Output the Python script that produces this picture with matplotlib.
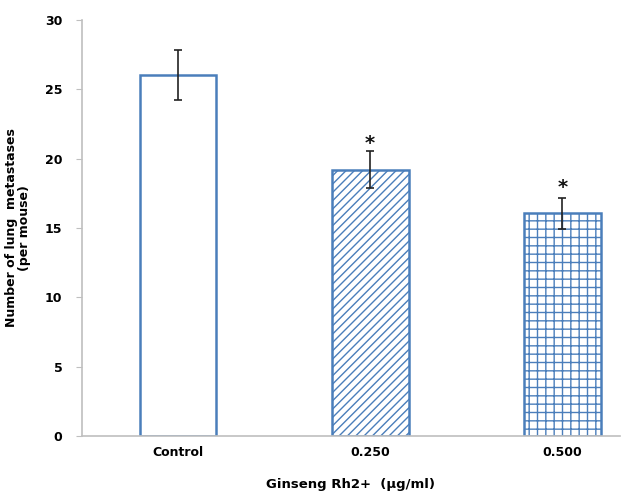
import matplotlib
matplotlib.use("Agg")
import matplotlib.pyplot as plt

# data
groups = ["Control", "0.250", "0.500"]
means = [26.0, 19.2, 16.05]
errors = [1.8, 1.35, 1.12]
star_y = [None, 21.1, 17.9]
hatches = ["", "////", "++"]
yticks = [0, 5, 10, 15, 20, 25, 30]

blue = "#4a7ebb"
grey = "#bfbfbf"

plt.rcParams["hatch.linewidth"] = 1.0
plt.rcParams["font.family"] = ["DejaVu Sans"]

fig = plt.figure(figsize=(6.22, 4.96), dpi=100)
ax = fig.add_axes([0.1318, 0.121, 0.865, 0.8387])

x = list(range(len(groups)))
for xi, m, h in zip(x, means, hatches):
    ax.bar(xi, m, width=0.40, facecolor="white", edgecolor=blue,
           linewidth=1.8, hatch=h, zorder=2)

ax.errorbar(x, means, yerr=errors, fmt="none", ecolor="#222222",
            elinewidth=1.2, capsize=3, capthick=1.2, zorder=3)

for xi, sy in zip(x, star_y):
    if sy is not None:
        ax.text(xi, sy, "*", ha="center", va="center", fontsize=14,
                fontweight="bold", color="#111111")

ax.set_xlim(-0.5, 2.30)
ax.set_ylim(0, 30)
ax.set_yticks(yticks)
ax.set_yticklabels([str(t) for t in yticks], fontsize=9, fontweight="bold")
ax.set_xticks(x)
ax.set_xticklabels(groups, fontsize=9, fontweight="bold")
ax.tick_params(axis="x", length=0, pad=7)
ax.tick_params(axis="y", length=4, color=grey, pad=10)

for side in ["top", "right"]:
    ax.spines[side].set_visible(False)
for side in ["left", "bottom"]:
    ax.spines[side].set_color(grey)
    ax.spines[side].set_linewidth(1.2)

ax.set_ylabel("Number of lung  metastases\n(per mouse)", fontsize=9,
              fontweight="bold", labelpad=10, linespacing=1.0)
ax.set_xlabel("Ginseng Rh2+  (\u00b5g/ml)", fontsize=9.5,
              fontweight="bold", labelpad=14)

fig.savefig("out.png", dpi=100, facecolor="white")
